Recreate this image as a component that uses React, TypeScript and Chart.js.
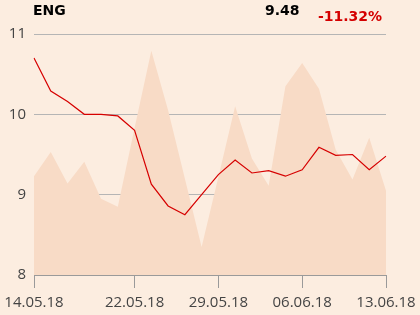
import React, { useEffect, useRef } from "react";
import { Chart, registerables } from "chart.js";

Chart.register(...registerables);

const dates = [
  "14.05.18", "15.05.18", "16.05.18", "17.05.18", "18.05.18", "21.05.18",
  "22.05.18", "23.05.18", "24.05.18", "25.05.18", "28.05.18", "29.05.18",
  "30.05.18", "31.05.18", "01.06.18", "04.06.18", "06.06.18", "07.06.18",
  "08.06.18", "11.06.18", "12.06.18", "13.06.18",
];
const shownLabels = ["14.05.18", "22.05.18", "29.05.18", "06.06.18", "13.06.18"];
const price = [
  10.7, 10.29, 10.16, 10.0, 10.0, 9.98, 9.8, 9.13, 8.86, 8.75, 9.0, 9.25,
  9.43, 9.27, 9.3, 9.23, 9.31, 9.59, 9.49, 9.5, 9.31, 9.48,
];
const volumeShape = [
  9.23, 9.53, 9.14, 9.41, 8.95, 8.85, 9.83, 10.79, 10.05, 9.2, 8.35, 9.22,
  10.1, 9.45, 9.11, 10.35, 10.64, 10.32, 9.56, 9.19, 9.71, 9.05,
];
const yTicks = [8, 9, 10, 11];
const ticker = "ENG";
const lastPrice = "9.48";
const change = "-11.32%";

export default function App() {
  const ref = useRef<HTMLCanvasElement | null>(null);

  useEffect(() => {
    document.body.style.margin = "0";
    const ctx = ref.current!.getContext("2d")!;
    const showIdx = shownLabels.map((l) => dates.indexOf(l));
    const chart = new Chart(ctx, {
      type: "line",
      data: {
        labels: dates,
        datasets: [
          {
            data: price,
            borderColor: "#d60000",
            borderWidth: 1.2,
            pointRadius: 0,
            tension: 0,
            fill: false,
            order: 0,
          },
          {
            data: volumeShape,
            borderWidth: 0,
            borderColor: "rgba(0,0,0,0)",
            backgroundColor: "#f8dbc6",
            pointRadius: 0,
            tension: 0,
            fill: "start",
            order: 1,
          },
        ],
      },
      options: {
        animation: false,
        responsive: false,
        maintainAspectRatio: false,
        layout: { padding: { top: 34, right: 34, bottom: 0, left: 0 } },
        plugins: {
          legend: { display: false },
          tooltip: { enabled: false },
        },
        scales: {
          x: {
            type: "category",
            offset: false,
            afterBuildTicks: (scale: any) => {
              scale.ticks = scale.ticks.filter((t: any) => showIdx.includes(t.value));
            },
            afterFit: (scale: any) => {
              scale.height = 40;
            },
            grid: {
              drawOnChartArea: false,
              drawTicks: true,
              tickLength: 13,
              color: "#9a9a9a",
            },
            border: { display: true, color: "#9a9a9a", width: 1 },
            ticks: {
              autoSkip: false,
              maxRotation: 0,
              minRotation: 0,
              padding: 0,
              color: "#444444",
              font: { family: "Open Sans", size: 15, lineHeight: 2.0 },
            },
          },
          y: {
            min: 8,
            max: 11,
            afterBuildTicks: (scale: any) => {
              scale.ticks = yTicks.map((v) => ({ value: v }));
            },
            afterFit: (scale: any) => {
              scale.width = 34;
            },
            grid: {
              drawTicks: false,
              color: (c: any) => (c.tick && c.tick.value === 8 ? "rgba(0,0,0,0)" : "#b5b5b5"),
              lineWidth: 1,
            },
            border: { display: false },
            ticks: {
              padding: 8,
              color: "#444444",
              font: { family: "Open Sans", size: 15 },
            },
          },
        },
      },
    });
    return () => chart.destroy();
  }, []);

  const textBase: React.CSSProperties = {
    position: "absolute",
    fontFamily: "DejaVu Sans",
    fontWeight: "bold",
    fontSize: 14,
    lineHeight: "16px",
    whiteSpace: "nowrap",
  };

  return (
    <div
      style={{
        position: "fixed",
        left: 0,
        top: 0,
        width: 420,
        height: 315,
        background: "#fcede0",
        overflow: "hidden",
      }}
    >
      <canvas ref={ref} width={420} height={315} style={{ display: "block", width: 420, height: 315 }} />
      <div style={{ ...textBase, left: 33, top: 2, color: "#000" }}>{ticker}</div>
      <div style={{ ...textBase, left: 265, top: 2, color: "#000" }}>{lastPrice}</div>
      <div style={{ ...textBase, left: 318, top: 8, color: "#d40000" }}>{change}</div>
    </div>
  );
}
